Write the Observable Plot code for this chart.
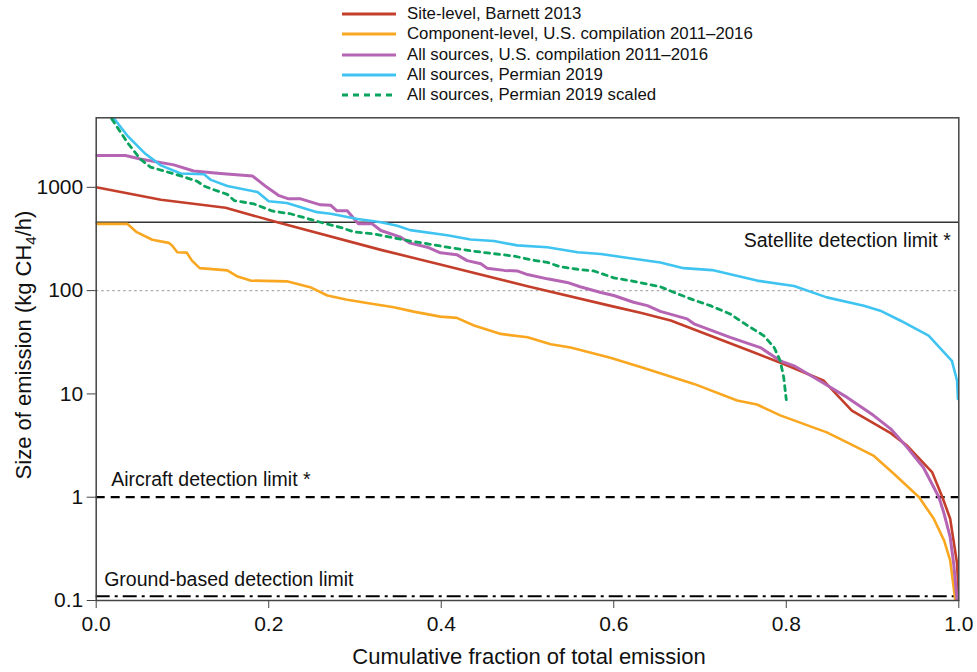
<!DOCTYPE html>
<html><head><meta charset="utf-8">
<script src="https://cdn.jsdelivr.net/npm/d3@7"></script>
<script src="https://cdn.jsdelivr.net/npm/@observablehq/plot@0.6"></script>
<style>
body{margin:0;background:#fff;}
#wrap{position:relative;width:977px;height:672px;font-family:"Liberation Sans",Arial,sans-serif;}
#legend{position:absolute;left:340px;top:4px;}
.row{display:flex;align-items:center;height:20.3px;font-size:16.8px;color:#111;white-space:nowrap}
.row svg{width:58px;height:10px;margin-right:9px}
</style></head><body><div id="wrap"></div>
<script>
// ---- data ----
const seriesNames = [
  "Site-level, Barnett 2013",
  "Component-level, U.S. compilation 2011\u20132016",
  "All sources, U.S. compilation 2011\u20132016",
  "All sources, Permian 2019",
  "All sources, Permian 2019 scaled"
];
const seriesColors = ["#c43f2b", "#f9a720", "#b565b3", "#3fc4f1", "#0aa45e"];

const redX = [0, 0.075, 0.15, 0.21, 0.33, 0.4, 0.5, 0.6, 0.631, 0.666, 0.762, 0.797, 0.843, 0.876, 0.921, 0.94, 0.969, 0.981, 0.99, 0.998, 1.0];
const redY = [1000, 757, 633, 459, 248, 178, 110, 70, 61, 51.4, 25.3, 19.5, 13.5, 6.9, 4.17, 3.16, 1.75, 1.0, 0.618, 0.228, 0.1];

const orangeX = [0, 0.036, 0.047, 0.065, 0.084, 0.088, 0.094, 0.105, 0.111, 0.12, 0.152, 0.163, 0.179, 0.221, 0.248, 0.268, 0.291, 0.314, 0.345, 0.368, 0.399, 0.418, 0.438, 0.469, 0.5, 0.527, 0.55, 0.596, 0.631, 0.693, 0.743, 0.766, 0.793, 0.847, 0.874, 0.901, 0.925, 0.954, 0.971, 0.983, 0.99, 0.996];
const orangeY = [443, 443, 368, 311, 290, 273, 235, 233, 195, 165, 157, 138, 125, 123, 108, 89.7, 81.6, 76, 69, 62.6, 56, 54.5, 45.9, 38.1, 35.3, 30.3, 28.1, 22.4, 18.2, 12.5, 8.65, 7.9, 6.2, 4.24, 3.28, 2.53, 1.68, 1.0, 0.618, 0.38, 0.245, 0.1];

const purpleX = [0, 0.034, 0.051, 0.09, 0.113, 0.144, 0.181, 0.198, 0.212, 0.223, 0.237, 0.26, 0.272, 0.279, 0.291, 0.304, 0.32, 0.33, 0.353, 0.364, 0.384, 0.399, 0.418, 0.43, 0.446, 0.453, 0.473, 0.488, 0.5, 0.523, 0.546, 0.561, 0.585, 0.6, 0.623, 0.639, 0.654, 0.685, 0.693, 0.735, 0.77, 0.793, 0.809, 0.842, 0.871, 0.901, 0.921, 0.94, 0.959, 0.977, 0.983, 0.99, 0.994, 0.998];
const purpleY = [2032, 2032, 1880, 1650, 1440, 1360, 1290, 1000, 830, 773, 773, 677, 670, 592, 592, 443, 443, 382, 329, 288, 263, 232, 223, 195, 182, 165, 157, 155, 143, 130, 120, 109, 96, 89.7, 77.2, 71.5, 63, 53.3, 47.7, 35.3, 28.1, 20.9, 18.7, 12.9, 9.2, 6.2, 4.59, 3.04, 1.94, 1.0, 0.69, 0.41, 0.23, 0.1];

const blueX = [0.02, 0.036, 0.057, 0.075, 0.098, 0.125, 0.133, 0.152, 0.187, 0.2, 0.221, 0.256, 0.272, 0.303, 0.318, 0.33, 0.349, 0.364, 0.407, 0.434, 0.461, 0.488, 0.523, 0.558, 0.585, 0.619, 0.654, 0.681, 0.714, 0.766, 0.809, 0.847, 0.89, 0.909, 0.932, 0.965, 0.992, 0.998, 0.999];
const blueY = [4710, 3170, 2110, 1630, 1360, 1340, 1180, 1030, 900, 733, 706, 575, 555, 494, 475, 459, 424, 385, 344, 313, 302, 274, 263, 235, 226, 206, 187, 165, 158, 125, 111, 86, 71.5, 63.9, 51.4, 36.6, 20.9, 13.4, 8.95];

const greenX = [0.018, 0.036, 0.051, 0.063, 0.098, 0.117, 0.125, 0.133, 0.152, 0.16, 0.183, 0.204, 0.225, 0.26, 0.283, 0.299, 0.322, 0.341, 0.364, 0.38, 0.407, 0.434, 0.457, 0.484, 0.507, 0.523, 0.538, 0.558, 0.577, 0.6, 0.623, 0.654, 0.67, 0.693, 0.712, 0.735, 0.755, 0.774, 0.786, 0.793, 0.797, 0.8];
const greenY = [4600, 2730, 1880, 1570, 1290, 1145, 1030, 970, 855, 745, 690, 590, 555, 459, 410, 370, 354, 329, 302, 288, 263, 243, 230, 216, 197, 188, 170, 161, 155, 133, 123, 109, 96, 80.8, 71.5, 59.4, 45.9, 36.6, 28.1, 20.9, 14.5, 8.8];

const xTicks = [0, 0.2, 0.4, 0.6, 0.8, 1.0];
const yTicks = [0.1, 1, 10, 100, 1000];
const satelliteLimit = 460;
const referenceLine = 100;
const aircraftLimit = 1;
const groundLimit = 0.11;
const limitLabels = ["Satellite detection limit *", "Aircraft detection limit *", "Ground-based detection limit"];

// ---- build ----
const xsList = [redX, orangeX, purpleX, blueX, greenX];
const ysList = [redY, orangeY, purpleY, blueY, greenY];
const table = seriesNames.map((name, k) => xsList[k].map((x, i) => ({series: name, x, y: ysList[k][i]})));

const font = "'Liberation Sans', Arial, sans-serif";
const lineStyles = [
  {strokeWidth: 2.6},
  {strokeWidth: 2.6},
  {strokeWidth: 3},
  {strokeWidth: 2.6},
  {strokeWidth: 2.8, strokeDasharray: "5,5"}
];

const chart = Plot.plot({
  width: 977,
  height: 672,
  marginLeft: 95.7,
  marginRight: 18.7,
  marginTop: 117.3,
  marginBottom: 72,
  style: {fontFamily: font, color: "#111", background: "white"},
  x: {domain: [0, 1]},
  y: {type: "log", domain: [0.1, 4710]},
  marks: [
    Plot.ruleY([referenceLine], {stroke: "#aaa", strokeWidth: 1.3, strokeDasharray: "2.5,3"}),
    Plot.ruleY([satelliteLimit], {stroke: "#333", strokeWidth: 1.5}),
    Plot.ruleY([aircraftLimit], {stroke: "#000", strokeWidth: 2.2, strokeDasharray: "9,6"}),
    Plot.ruleY([groundLimit], {stroke: "#000", strokeWidth: 2, strokeDasharray: "14,5,3,5"}),
    ...table.map((d, k) => Plot.line(d, {x: "x", y: "y", stroke: seriesColors[k], clip: true, ...lineStyles[k]})),
    Plot.text([limitLabels[0]], {frameAnchor: "right", y: [satelliteLimit], text: d => d, dx: -8, dy: 19, textAnchor: "end", fontSize: 19.5, fill: "#111"}),
    Plot.text([limitLabels[1]], {frameAnchor: "left", y: [aircraftLimit], text: d => d, dx: 15, dy: -17, textAnchor: "start", fontSize: 19.5, fill: "#111"}),
    Plot.text([limitLabels[2]], {frameAnchor: "left", y: [groundLimit], text: d => d, dx: 8, dy: -16, textAnchor: "start", fontSize: 19.5, fill: "#111"}),
    Plot.frame({stroke: "#444", strokeWidth: 1.5}),
    Plot.axisY({ticks: yTicks, tickFormat: d => d < 1 ? "0.1" : String(d), tickSize: 9, tickPadding: 4, fontSize: 21, label: null, stroke: "#444"}),
    Plot.axisX({ticks: xTicks, tickFormat: d3.format(".1f"), tickSize: 8, tickPadding: 8, fontSize: 21, label: null, stroke: "#444"})
  ]
});

const wrap = document.getElementById("wrap");
wrap.appendChild(chart);

// axis titles
const svg = d3.select(chart);
svg.append("text")
  .attr("x", 529).attr("y", 664)
  .attr("text-anchor", "middle")
  .attr("font-size", 22).attr("fill", "#111").attr("font-family", font)
  .text("Cumulative fraction of total emission");
const yt = svg.append("text")
  .attr("transform", "translate(31,345) rotate(-90)")
  .attr("text-anchor", "middle")
  .attr("font-size", 22).attr("fill", "#111").attr("font-family", font);
yt.append("tspan").text("Size of emission (kg CH");
yt.append("tspan").attr("font-size", 15).attr("dy", 5).text("4");
yt.append("tspan").attr("dy", -5).text("/h)");

// legend
const legend = document.createElement("div");
legend.id = "legend";
seriesNames.forEach((name, k) => {
  const row = document.createElement("div");
  row.className = "row";
  const dash = lineStyles[k].strokeDasharray ? `stroke-dasharray="6,5"` : "";
  row.innerHTML = `<svg viewBox="0 0 58 10"><line x1="2" x2="56" y1="5" y2="5" stroke="${seriesColors[k]}" stroke-width="3" ${dash}/></svg><span>${name}</span>`;
  legend.appendChild(row);
});
wrap.appendChild(legend);
</script>
</body></html>
